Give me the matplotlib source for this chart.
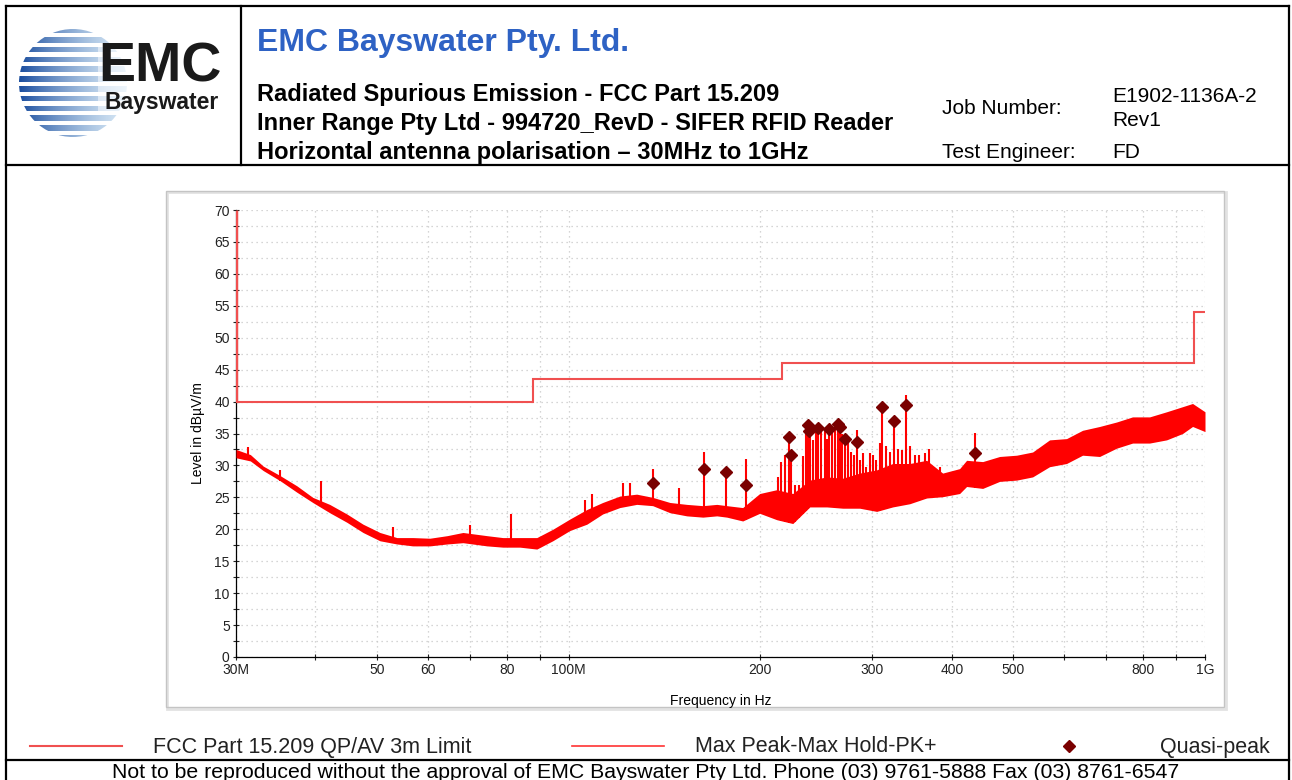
import numpy as np
import matplotlib
matplotlib.use("Agg")
import matplotlib.pyplot as plt
from matplotlib.patches import Rectangle, Circle
from matplotlib.ticker import FixedLocator, FixedFormatter

plt.rcParams["font.family"] = ["Liberation Sans", "DejaVu Sans"]

# ---- data (MHz / dBuV/m) ----
freq_mhz = [30.0, 31.6, 33.1, 35.2, 37.4, 39.6, 42.1, 44.8, 47.5, 50.5, 53.7, 56.9, 60.5,
            64.4, 68.2, 74.4, 78.8, 83.8, 89.1, 94.4, 100.4, 106.8, 113.1, 120.3, 127.9,
            135.5, 144.2, 153.3, 162.5, 170.9, 177.2, 187.7, 199.6, 212.3, 225.0, 239.3,
            254.4, 269.6, 286.6, 304.8, 323.0, 343.5, 365.2, 387.0, 411.5, 422.0, 447.3,
            475.6, 505.7, 535.9, 569.8, 605.9, 642.1, 682.9, 726.2, 769.5, 818.3, 870.2,
            922.1, 956.0, 1000.0]
peak_hi = [32.5, 31.7, 29.9, 28.4, 26.8, 25.0, 23.9, 22.4, 20.8, 19.5, 18.7, 18.7, 18.6,
           19.0, 19.5, 19.0, 18.7, 18.7, 18.7, 20.0, 21.6, 23.1, 24.2, 25.2, 25.5,
           25.0, 24.2, 23.9, 23.7, 23.9, 23.7, 23.4, 25.6, 26.2, 25.6, 27.7,
           28.2, 28.0, 28.8, 29.3, 30.3, 30.3, 30.8, 28.8, 29.5, 30.8, 30.6,
           31.4, 31.6, 32.1, 34.0, 34.2, 35.5, 36.1, 36.8, 37.6, 37.6, 38.4,
           39.2, 39.7, 38.4]
peak_lo = [31.2, 30.7, 29.2, 27.6, 25.8, 24.2, 22.6, 21.1, 19.5, 18.2, 17.7, 17.4, 17.4,
           17.7, 17.9, 17.4, 17.2, 17.2, 16.9, 18.2, 19.8, 20.8, 22.4, 23.4, 23.9,
           23.7, 22.6, 22.1, 21.9, 22.1, 21.9, 21.3, 22.5, 21.5, 20.9, 23.5,
           23.5, 23.3, 23.3, 22.8, 23.5, 24.0, 24.9, 25.1, 25.6, 26.7, 26.4,
           27.5, 27.7, 28.2, 29.8, 30.3, 31.6, 31.4, 32.7, 33.5, 33.5, 34.0,
           35.0, 36.1, 35.3]

spike_freq = [31.3, 35.2, 40.8, 52.9, 69.9, 81.3, 106.0, 108.6, 121.6, 124.7, 135.5,
              149.1, 163.0, 176.4, 189.8,
              213.1, 215.9, 218.5, 221.7, 223.3, 226.6, 229.9, 233.5, 235.8, 237.3,
              239.3, 242.1, 244.5, 246.9, 249.6, 252.6, 254.2, 256.5, 259.7, 262.1,
              264.7, 266.7, 269.3, 271.8, 274.5, 277.5, 280.5, 283.9, 286.6, 290.1,
              293.7, 297.2, 300.8, 304.0, 308.1, 311.2, 314.9, 319.5, 324.5, 329.3,
              334.1, 338.9, 343.5, 349.7, 355.2, 362.6, 368.2, 382.8, 435.6]
spike_top = [32.9, 29.3, 27.6, 20.4, 20.7, 22.4, 24.6, 25.5, 27.2, 27.2, 29.4,
             26.5, 32.1, 29.6, 31.0,
             28.2, 30.6, 31.6, 35.1, 31.9, 27.0, 27.0, 31.4, 35.5, 36.6,
             34.5, 34.0, 35.3, 36.6, 35.3, 35.8, 34.2, 36.1, 35.3, 35.5,
             37.1, 36.6, 34.9, 34.8, 33.7, 32.1, 31.6, 35.5, 30.8, 31.9,
             29.8, 31.9, 31.6, 30.8, 33.5, 39.7, 33.0, 32.1, 37.4, 32.6,
             32.4, 41.0, 33.1, 31.6, 31.6, 31.9, 32.5, 29.8, 35.1]

qp_freq = [135.6, 163.0, 176.4, 189.8, 221.7, 223.3, 237.3, 238.4, 246.9, 256.5,
           264.7, 266.7, 271.8, 283.9, 311.2, 324.5, 338.9, 435.6]
qp_level = [27.2, 29.4, 29.0, 26.9, 34.5, 31.7, 36.3, 35.4, 35.9, 35.7,
            36.5, 36.0, 34.1, 33.6, 39.2, 37.0, 39.5, 32.0]

limit_edges = [30, 88, 216, 960, 1000]
limit_level = [40, 43.5, 46, 54]

x_ticks = [30, 40, 50, 60, 70, 80, 90, 100, 200, 300, 400, 500, 600, 700, 800, 900, 1000]
x_labels = ["30M", "", "50", "60", "", "80", "", "100M", "200", "300", "400", "500",
            "", "", "800", "", "1G"]

LIMIT_C = "#f05050"
PEAK_C = "#ff0000"
QP_C = "#7a0000"

W, H = 1292, 780
fig = plt.figure(figsize=(W / 100, H / 100), dpi=100)

# overlay in pixel coordinates for the report frame
bg = fig.add_axes([0, 0, 1, 1], zorder=0)
bg.axis("off")

lw = 1.6
bg.plot([6, 1289], [6, 6], color="k", lw=lw)
bg.plot([6, 6], [6, H], color="k", lw=lw)
bg.plot([1289, 1289], [6, H], color="k", lw=lw)
bg.plot([6, 1289], [165, 165], color="k", lw=lw)
bg.plot([241, 241], [6, 165], color="k", lw=lw)
bg.plot([6, 1289], [760, 760], color="k", lw=lw)

# logo: striped globe
ny, nx = 108, 108
rows = np.arange(ny)[:, None]
cols = np.arange(nx)[None, :]
stripe = (np.sin(2 * np.pi * (rows + 2) / 9.8) > -0.25).astype(float)
fade = np.clip(1.0 - cols / nx * 0.6, 0, 1)
img = np.zeros((ny, nx, 4))
img[..., 0] = 0.10 + 0.55 * (cols / nx)
img[..., 1] = 0.30 + 0.50 * (cols / nx)
img[..., 2] = 0.62 + 0.30 * (cols / nx)
img[..., 3] = stripe * fade
im = bg.imshow(img, extent=(19, 127, 137, 29), aspect="auto", interpolation="bilinear")
im.set_clip_path(Circle((73, 83), 54, transform=bg.transData))
bg.set_xlim(0, W)
bg.set_ylim(H, 0)

bg.add_patch(Rectangle((98, 44), 126, 70, color="white", lw=0, alpha=0.5))
bg.text(160, 68, "EMC", fontsize=40, fontweight="bold", color="#1a1a1a",
        ha="center", va="center")
bg.text(162, 103, "Bayswater", fontsize=16.5, fontweight="bold", color="#1a1a1a",
        ha="center", va="center")

# header text
bg.text(257, 43, "EMC Bayswater Pty. Ltd.", color="#2e62c4", fontsize=23,
        fontweight="bold", va="center", ha="left")
sub = ["Radiated Spurious Emission - FCC Part 15.209",
       "Inner Range Pty Ltd - 994720_RevD - SIFER RFID Reader",
       "Horizontal antenna polarisation \u2013 30MHz to 1GHz"]
for i, s in enumerate(sub):
    bg.text(257, 95 + i * 28.5, s, fontsize=17, fontweight="bold", va="center", ha="left")
bg.text(942, 109, "Job Number:", fontsize=15, va="center")
bg.text(942, 152, "Test Engineer:", fontsize=15, va="center")
bg.text(1112, 97, "E1902-1136A-2", fontsize=15, va="center")
bg.text(1112, 121, "Rev1", fontsize=15, va="center")
bg.text(1112, 152, "FD", fontsize=15, va="center")

# plot frame
bg.add_patch(Rectangle((167, 192), 1059, 517, fill=False, ec="#e2e2e2", lw=2))
bg.add_patch(Rectangle((166, 191), 1058, 516, fill=False, ec="#c4c4c4", lw=1))

# legend row
bg.plot([30, 122], [746, 746], color=LIMIT_C, lw=1.5)
bg.text(153, 747, "FCC Part 15.209 QP/AV 3m Limit", fontsize=15.5, va="center", color="#222")
bg.plot([572, 664], [746, 746], color=PEAK_C, lw=1.2, alpha=0.8)
bg.text(695, 747, "Max Peak-Max Hold-PK+", fontsize=15.5, va="center", color="#222")
bg.plot([1069], [746], "D", color=QP_C, ms=6.5)
bg.text(1270, 747, "Quasi-peak", fontsize=15.5, va="center", ha="right", color="#222")

bg.text(646, 772, "Not to be reproduced without the approval of EMC Bayswater Pty Ltd. "
        "Phone (03) 9761-5888 Fax (03) 8761-6547", fontsize=15.3, va="center", ha="center")

# ---- the chart ----
ax = fig.add_axes([236 / W, 1 - 657 / H, 969 / W, 447 / H], zorder=1)
ax.set_xscale("log")
ax.set_xlim(30, 1000)
ax.set_ylim(0, 70)

ax.fill_between(freq_mhz, peak_lo, peak_hi, color=PEAK_C, lw=0, zorder=3)
base = np.interp(np.log10(spike_freq), np.log10(freq_mhz), peak_lo)
ax.vlines(spike_freq, base, spike_top, color=PEAK_C, lw=1.5, zorder=3)

ax.stairs(limit_level, limit_edges, baseline=None, color=LIMIT_C, lw=1.5, zorder=4)
ax.vlines(limit_edges[0], limit_level[0], 70, color=LIMIT_C, lw=2.5, zorder=4)

ax.plot(qp_freq, qp_level, "D", color=QP_C, ms=6.5, ls="none", zorder=5)

ax.xaxis.set_major_locator(FixedLocator(x_ticks))
ax.xaxis.set_major_formatter(FixedFormatter(x_labels))
ax.xaxis.set_minor_locator(FixedLocator([]))
ax.set_yticks(np.arange(0, 71, 5))
ax.set_yticks(np.arange(2.5, 70, 5), minor=True)
ax.tick_params(which="both", direction="inout", length=5, width=0.8, labelsize=10,
               colors="#222", pad=2)
ax.grid(True, which="both", color="#c8c8c8", ls=(0, (1, 3)), lw=0.9)
for side in ("top", "right"):
    ax.spines[side].set_visible(False)
for side in ("left", "bottom"):
    ax.spines[side].set_linewidth(0.9)
ax.set_ylabel("Level in dB\u00b5V/m", fontsize=10)
ax.set_xlabel("Frequency in Hz", fontsize=10)
ax.yaxis.set_label_coords(-0.032, 0.5)
ax.xaxis.set_label_coords(0.5, -0.083)

fig.savefig("out.png", dpi=100)
